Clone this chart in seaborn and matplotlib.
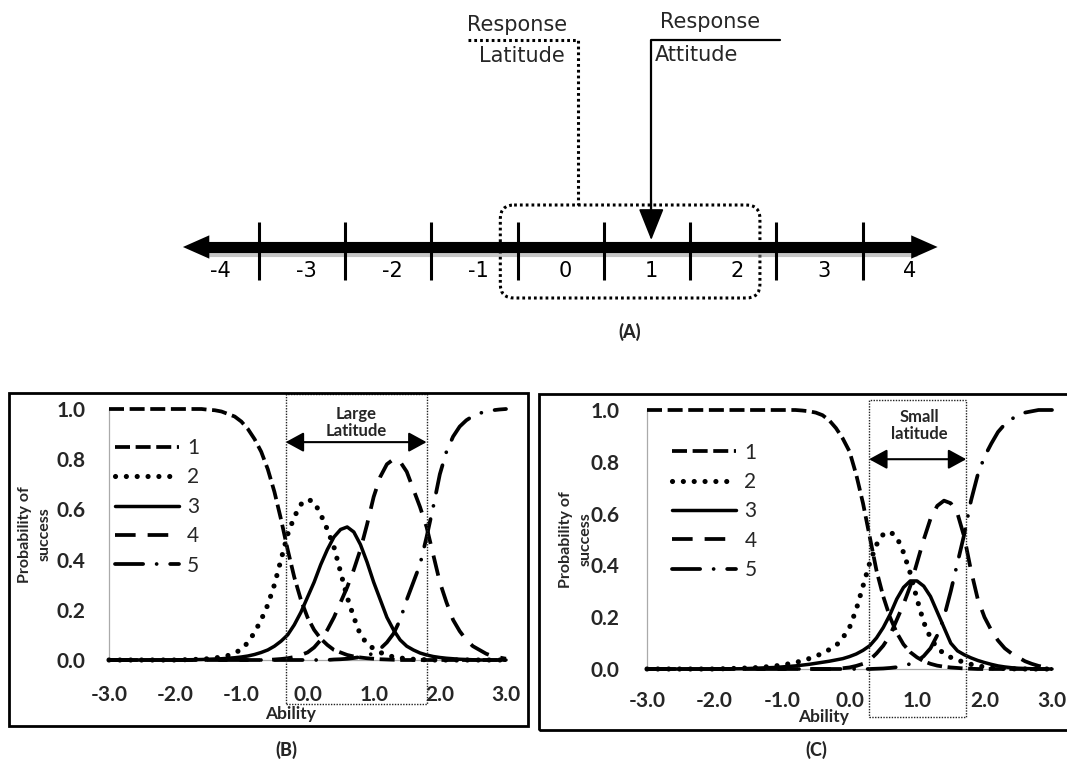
import numpy as np
import pandas as pd
import matplotlib
matplotlib.use("Agg")
import matplotlib.pyplot as plt
import matplotlib.patheffects as pe
from matplotlib.patches import Rectangle, FancyBboxPatch
from matplotlib.ticker import MultipleLocator
import seaborn as sns

# ---------------- data ----------------
scale_values = [-4, -3, -2, -1, 0, 1, 2, 3, 4]
response_attitude = 1.0
response_latitude = (-0.75, 2.26)

categories = ["1", "2", "3", "4", "5"]
ability = [-3.0, -2.5, -2.0, -1.6, -1.5, -1.4, -1.3, -1.2, -1.1, -1.0,
           -0.9, -0.8, -0.7, -0.6, -0.5, -0.4, -0.3, -0.2, -0.1, 0.0,
           0.1, 0.2, 0.3, 0.4, 0.5, 0.6, 0.7, 0.8, 0.9, 1.0,
           1.1, 1.2, 1.3, 1.4, 1.5, 1.6, 1.7, 1.8, 1.9, 2.0,
           2.1, 2.2, 2.3, 2.4, 2.5, 2.6, 2.7, 2.8, 2.9, 3.0]

# Panel B (large latitude)
b_cat1 = [1.0, 1.0, 1.0, 1.0, 0.997, 0.995, 0.99, 0.98, 0.97, 0.95,
          0.92, 0.88, 0.83, 0.76, 0.67, 0.56, 0.44, 0.33, 0.24, 0.17,
          0.12, 0.085, 0.06, 0.04, 0.03, 0.02, 0.014, 0.01, 0.007, 0.005,
          0.003, 0.002, 0.001, 0, 0, 0, 0, 0, 0, 0,
          0, 0, 0, 0, 0, 0, 0, 0, 0, 0]
b_cat2 = [0, 0, 0, 0.003, 0.005, 0.008, 0.012, 0.018, 0.028, 0.042,
          0.07, 0.11, 0.16, 0.22, 0.30, 0.40, 0.50, 0.57, 0.62, 0.64,
          0.63, 0.58, 0.52, 0.45, 0.35, 0.25, 0.17, 0.10, 0.065, 0.045,
          0.03, 0.02, 0.012, 0.008, 0.005, 0.003, 0.002, 0.001, 0, 0,
          0, 0, 0, 0, 0, 0, 0, 0, 0, 0]
b_cat3 = [0, 0, 0, 0.002, 0.003, 0.004, 0.005, 0.007, 0.009, 0.012,
          0.016, 0.022, 0.03, 0.04, 0.055, 0.075, 0.10, 0.14, 0.19, 0.25,
          0.31, 0.38, 0.44, 0.49, 0.52, 0.53, 0.51, 0.46, 0.39, 0.31,
          0.24, 0.17, 0.12, 0.08, 0.055, 0.04, 0.028, 0.02, 0.014, 0.01,
          0.007, 0.005, 0.003, 0.002, 0.001, 0, 0, 0, 0, 0]
b_cat4 = [0, 0, 0, 0, 0, 0, 0, 0, 0, 0,
          0, 0, 0, 0, 0.002, 0.004, 0.007, 0.012, 0.02, 0.03,
          0.05, 0.08, 0.12, 0.17, 0.23, 0.29, 0.36, 0.44, 0.54, 0.65,
          0.73, 0.78, 0.80, 0.79, 0.75, 0.68, 0.61, 0.53, 0.42, 0.31,
          0.23, 0.16, 0.115, 0.08, 0.055, 0.04, 0.025, 0.015, 0.01, 0.005]
b_cat5 = [0, 0, 0, 0, 0, 0, 0, 0, 0, 0,
          0, 0, 0, 0, 0, 0, 0, 0, 0, 0,
          0, 0, 0, 0.002, 0.003, 0.005, 0.008, 0.012, 0.018, 0.027,
          0.045, 0.07, 0.105, 0.16, 0.24, 0.31, 0.38, 0.49, 0.61, 0.74,
          0.83, 0.89, 0.93, 0.955, 0.972, 0.983, 0.99, 0.995, 0.998, 1.0]

# Panel C (small latitude)
c_cat1 = [1.0, 1.0, 1.0, 1.0, 1.0, 1.0, 1.0, 1.0, 1.0, 1.0,
          1.0, 1.0, 0.998, 0.995, 0.99, 0.98, 0.96, 0.93, 0.89, 0.84,
          0.75, 0.64, 0.51, 0.38, 0.28, 0.20, 0.14, 0.095, 0.065, 0.045,
          0.03, 0.02, 0.013, 0.009, 0.006, 0.004, 0.002, 0.001, 0, 0,
          0, 0, 0, 0, 0, 0, 0, 0, 0, 0]
c_cat2 = [0, 0, 0, 0.003, 0.004, 0.005, 0.007, 0.009, 0.012, 0.015,
          0.02, 0.025, 0.032, 0.04, 0.05, 0.06, 0.075, 0.09, 0.12, 0.16,
          0.23, 0.32, 0.41, 0.48, 0.52, 0.53, 0.51, 0.45, 0.37, 0.27,
          0.18, 0.12, 0.08, 0.06, 0.045, 0.035, 0.025, 0.018, 0.012, 0.008,
          0.005, 0.003, 0.002, 0.001, 0, 0, 0, 0, 0, 0]
c_cat3 = [0, 0, 0, 0.001, 0.002, 0.003, 0.004, 0.005, 0.006, 0.008,
          0.01, 0.012, 0.015, 0.018, 0.022, 0.026, 0.03, 0.035, 0.04, 0.048,
          0.058, 0.072, 0.09, 0.12, 0.16, 0.21, 0.27, 0.315, 0.34, 0.34,
          0.32, 0.28, 0.22, 0.16, 0.10, 0.07, 0.055, 0.043, 0.033, 0.025,
          0.018, 0.012, 0.008, 0.005, 0.003, 0.002, 0.001, 0, 0, 0]
c_cat4 = [0, 0, 0, 0, 0, 0, 0, 0, 0, 0,
          0, 0, 0, 0, 0, 0, 0, 0, 0.003, 0.006,
          0.012, 0.02, 0.035, 0.06, 0.09, 0.13, 0.19, 0.25, 0.32, 0.41,
          0.50, 0.58, 0.63, 0.65, 0.64, 0.60, 0.51, 0.38, 0.27, 0.20,
          0.15, 0.11, 0.08, 0.06, 0.045, 0.03, 0.02, 0.012, 0.007, 0.004]
c_cat5 = [0, 0, 0, 0, 0, 0, 0, 0, 0, 0,
          0, 0, 0, 0, 0, 0, 0, 0, 0, 0,
          0, 0, 0, 0.001, 0.002, 0.004, 0.007, 0.012, 0.02, 0.03,
          0.05, 0.08, 0.13, 0.20, 0.30, 0.41, 0.52, 0.65, 0.75, 0.82,
          0.87, 0.915, 0.945, 0.965, 0.98, 0.99, 0.995, 1.0, 1.0, 1.0]

large_latitude = (-0.33, 1.80)
small_latitude = (0.29, 1.73)

x_ticks = [-3.0, -2.0, -1.0, 0.0, 1.0, 2.0, 3.0]
y_ticks = [0.0, 0.2, 0.4, 0.6, 0.8, 1.0]

# ---------------- style ----------------
sns.set_style("white")
plt.rcParams["font.family"] = ["Lato", "DejaVu Sans"]
plt.rcParams["axes.unicode_minus"] = False

W, H = 1067, 761
fig = plt.figure(figsize=(W / 100, H / 100), dpi=100)


def fig_box(x0, y0, x1, y1):
    return [x0 / W, 1 - y1 / H, (x1 - x0) / W, (y1 - y0) / H]


# ---------------- panel A : number line ----------------
axA = fig.add_axes([0, 0, 1, 1], zorder=0)
px_per_unit = 86.25
zero_px = 565
axA.set_xlim((0 - zero_px) / px_per_unit, (W - zero_px) / px_per_unit)
axA.set_ylim(H, 0)
axA.axis("off")

y_line = 247
x_left = scale_values[0] - 0.43
x_right = scale_values[-1] + 0.32
axA.plot([x_left + 0.25, x_right - 0.25], [y_line, y_line], color="black", lw=8,
         solid_capstyle="butt",
         path_effects=[pe.SimpleLineShadow(offset=(1, -3), shadow_color="0.55", alpha=0.5),
                       pe.Normal()])
for tip, back in [(x_left, x_left + 0.5), (x_right, x_right - 0.5)]:
    axA.annotate("", xy=(tip, y_line), xytext=(back, y_line),
                 arrowprops=dict(arrowstyle="-|>,head_length=0.95,head_width=0.42",
                                 mutation_scale=20, color="black", lw=0,
                                 shrinkA=0, shrinkB=0))

tick_pos = [v + 0.45 for v in scale_values[:-1]]
axA.vlines(tick_pos, 222, 280, color="black", lw=2.2)
for v in scale_values:
    axA.text(v, 271, str(v), ha="center", va="center", fontsize=15,
             family="DejaVu Sans", color="black")

# response latitude box
lo, hi = response_latitude
axA.add_patch(FancyBboxPatch((lo, 205), hi - lo, 298 - 205,
                             boxstyle="round,pad=0,rounding_size=0.16",
                             mutation_aspect=px_per_unit, fill=False,
                             ls=(0, (0.9, 1.0)), lw=2.2, ec="black"))
lat_leader_x = 0.15
axA.plot([-1.13, lat_leader_x, lat_leader_x], [40, 40, 205], color="black",
         ls=(0, (0.9, 1.0)), lw=2.2)
axA.text(0.02, 25, "Response", ha="right", va="center", fontsize=15, family="DejaVu Sans")
axA.text(0.0, 56, "Latitude", ha="right", va="center", fontsize=15, family="DejaVu Sans")

# response attitude arrow
axA.plot([2.49, response_attitude, response_attitude], [40, 40, 215], color="black", lw=1.6)
axA.annotate("", xy=(response_attitude, 240), xytext=(response_attitude, 200),
             arrowprops=dict(arrowstyle="-|>,head_length=1.0,head_width=0.4",
                             mutation_scale=20, color="black", lw=1.2,
                             shrinkA=0, shrinkB=0))
axA.text(1.10, 22, "Response", ha="left", va="center", fontsize=15, family="DejaVu Sans")
axA.text(1.04, 55, "Attitude", ha="left", va="center", fontsize=15, family="DejaVu Sans")

fig.text(630 / W, 1 - 332 / H, "(A)", ha="center", va="center", fontsize=13, fontweight=900)

# ---------------- panels B and C ----------------
styles = {
    "1": dict(linestyle=(0, (4.0, 1.5)), linewidth=2.7),
    "2": dict(linestyle=(0, (0.01, 2.1)), linewidth=3.7, dash_capstyle="round"),
    "3": dict(linestyle="-", linewidth=2.5),
    "4": dict(linestyle=(0, (5.5, 3.2)), linewidth=2.7),
    "5": dict(linestyle=(0, (7.5, 3.6, 0.01, 3.6)), linewidth=2.7, dash_capstyle="round"),
}


def draw_panel(ax, curves, latitude, arrow_y, lat_text, text_xy, box_y, leg_anchor,
               xpad, ypad, ylab_x, xlab_xy):
    for cat, vals in zip(categories, curves):
        sns.lineplot(x=ability, y=vals, ax=ax, color="black", label=cat,
                     clip_on=False, zorder=3, **styles[cat])
    ax.set_xlim(-3, 3)
    ax.set_ylim(0, 1)
    ax.patch.set_alpha(0)
    ax.set_xticks(x_ticks)
    ax.set_xticklabels([f"{v:.1f}" for v in x_ticks], fontsize=15, fontweight="bold")
    ax.set_yticks(y_ticks)
    ax.set_yticklabels([f"{v:.1f}" for v in y_ticks], fontsize=15, fontweight="bold")
    ax.xaxis.set_minor_locator(MultipleLocator(0.2))
    ax.yaxis.set_minor_locator(MultipleLocator(0.02))
    ax.tick_params(axis="both", which="both", direction="out", color="#999999", width=0.8)
    ax.tick_params(axis="both", which="major", length=5)
    ax.tick_params(axis="both", which="minor", length=3)
    ax.tick_params(axis="x", which="both", pad=xpad)
    ax.tick_params(axis="y", which="both", pad=ypad)
    for s in ["top", "right"]:
        ax.spines[s].set_visible(False)
    for s in ["left", "bottom"]:
        ax.spines[s].set_color("#aaaaaa")
        ax.spines[s].set_linewidth(0.9)
    ax.set_ylabel("Probability of\nsuccess", fontsize=11.5, fontweight="bold", linespacing=1.45)
    ax.yaxis.set_label_coords(ylab_x, 0.5)
    ax.set_xlabel("Ability", fontsize=12.5, fontweight="bold")
    ax.xaxis.set_label_coords(*xlab_xy)

    lo, hi = latitude
    ax.add_patch(Rectangle((lo, box_y[0]), hi - lo, box_y[1] - box_y[0], fill=False,
                           ls=(0, (1, 1)), lw=1.0, ec="#222222", clip_on=False, zorder=4))
    ax.annotate("", xy=(lo, arrow_y), xytext=(hi, arrow_y),
                arrowprops=dict(arrowstyle="<|-|>,head_length=0.55,head_width=0.3",
                                mutation_scale=20, lw=1.5, color="black",
                                shrinkA=0, shrinkB=0), annotation_clip=False)
    ax.text(text_xy[0], text_xy[1], lat_text, ha="center", va="center", fontsize=12,
            fontweight="bold", linespacing=1.1)

    handles, labels = ax.get_legend_handles_labels()
    ax.legend(handles, labels, loc="upper left", bbox_to_anchor=leg_anchor,
              borderaxespad=0, borderpad=0, handlelength=3.07, handletextpad=0.4,
              labelspacing=0.45, frameon=False, fontsize=15)


axB = fig.add_axes(fig_box(109, 409, 506, 660))
draw_panel(axB, [b_cat1, b_cat2, b_cat3, b_cat4, b_cat5], large_latitude, 0.868,
           "Large\nLatitude", (0.73, 0.946), (-0.175, 1.06), (0.015, 0.884),
           13, 12, -0.145, (0.458, -0.183))

axC = fig.add_axes(fig_box(647, 410, 1052, 669))
draw_panel(axC, [c_cat1, c_cat2, c_cat3, c_cat4, c_cat5], small_latitude, 0.81,
           "Small\nlatitude", (1.03, 0.94), (-0.185, 1.04), (0.062, 0.874),
           11, 15, -0.135, (0.435, -0.154))

# frames around B and C
fig.add_artist(Rectangle((9 / W, 1 - 726 / H), (528 - 9) / W, (726 - 393) / H,
                         transform=fig.transFigure, fill=False, lw=2, ec="black"))
fig.add_artist(Rectangle((539 / W, 1 - 730 / H), (1080 - 539) / W, (730 - 394) / H,
                         transform=fig.transFigure, fill=False, lw=2, ec="black"))

fig.text(286 / W, 1 - 750 / H, "(B)", ha="center", va="center", fontsize=13, fontweight=900)
fig.text(816 / W, 1 - 750 / H, "(C)", ha="center", va="center", fontsize=13, fontweight=900)

fig.savefig("out.png", dpi=100)
